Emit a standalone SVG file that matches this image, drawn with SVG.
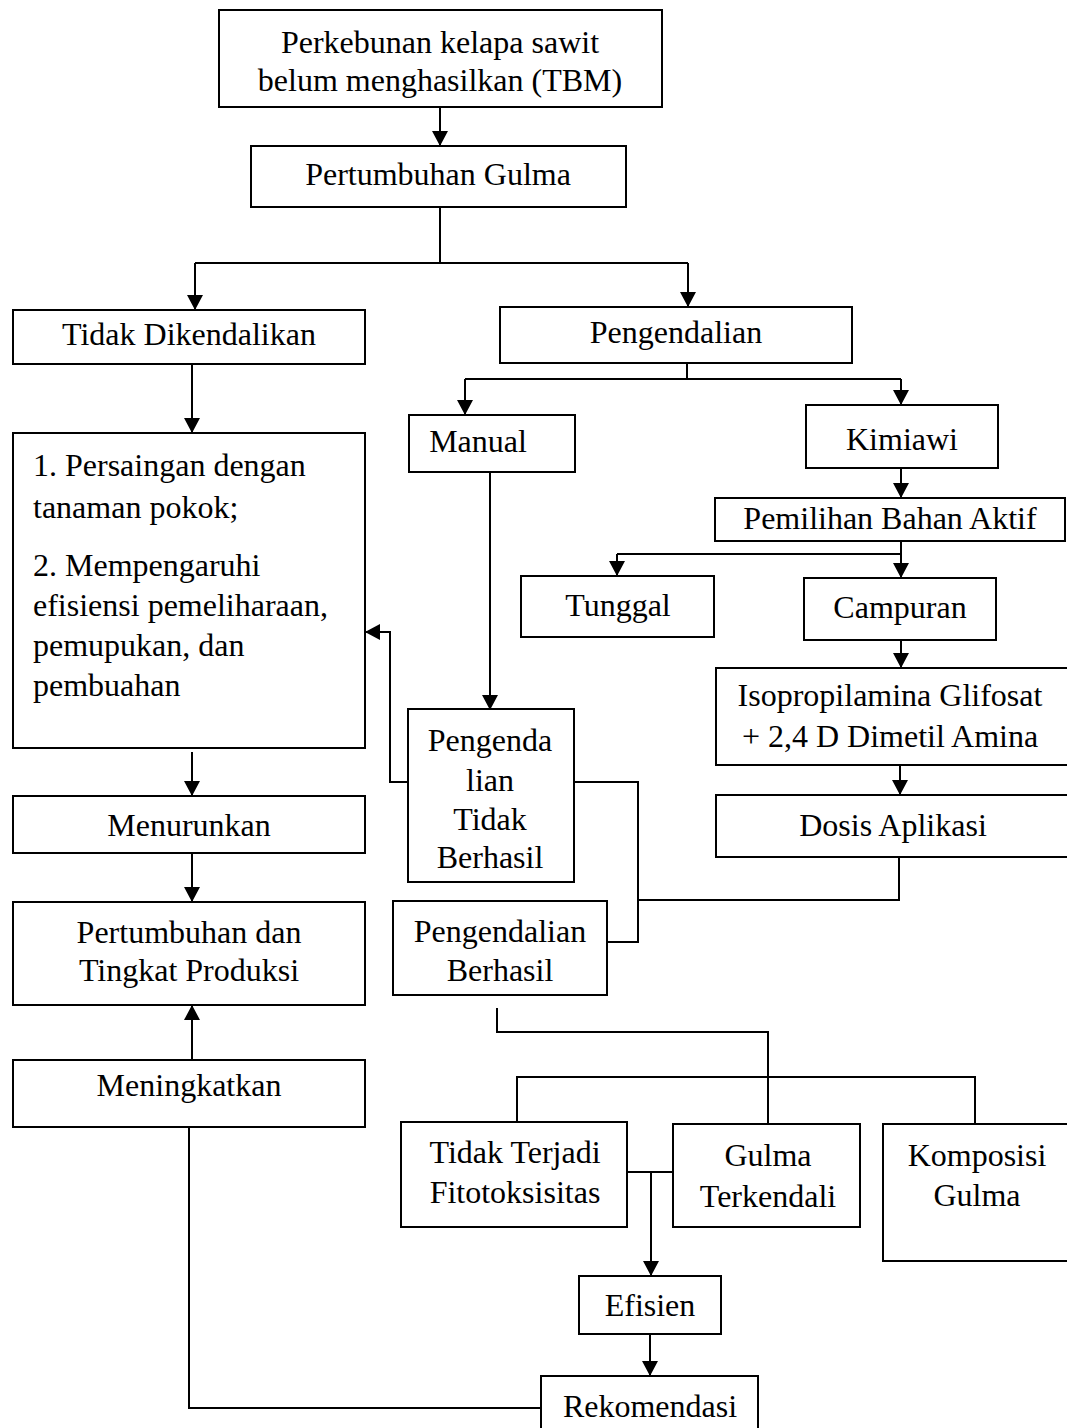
<svg xmlns="http://www.w3.org/2000/svg" width="1067" height="1428" viewBox="0 0 1067 1428">
<style>
.b{fill:#fff;stroke:#000;stroke-width:2}
.t{font-family:"Liberation Serif","Times New Roman",serif;font-size:32px;fill:#000;text-anchor:middle}
.l{text-anchor:start}
.c{fill:none;stroke:#000;stroke-width:2}
</style>
<defs>
<marker id="a" viewBox="0 0 15 16" refX="15" refY="8" markerWidth="15" markerHeight="16" markerUnits="userSpaceOnUse" orient="auto">
<path d="M0,0 L15,8 L0,16 z" fill="#000"/>
</marker>
</defs>
<rect width="1067" height="1428" fill="#fff"/>
<g id="connectors">
<path class="c" d="M440,107 V146" marker-end="url(#a)"/>
<path class="c" d="M440,208 V263 M195,263 H688"/>
<path class="c" d="M195,263 V310" marker-end="url(#a)"/>
<path class="c" d="M688,263 V307" marker-end="url(#a)"/>
<path class="c" d="M687,363 V379 M465,379 H901"/>
<path class="c" d="M465,379 V415" marker-end="url(#a)"/>
<path class="c" d="M901,379 V405" marker-end="url(#a)"/>
<path class="c" d="M901,468 V498" marker-end="url(#a)"/>
<path class="c" d="M901,541 V578" marker-end="url(#a)"/>
<path class="c" d="M617,554 H901"/>
<path class="c" d="M617,554 V576" marker-end="url(#a)"/>
<path class="c" d="M901,640 V668" marker-end="url(#a)"/>
<path class="c" d="M900,765 V795" marker-end="url(#a)"/>
<path class="c" d="M192,364 V433" marker-end="url(#a)"/>
<path class="c" d="M192,752 V796" marker-end="url(#a)"/>
<path class="c" d="M192,853 V902" marker-end="url(#a)"/>
<path class="c" d="M192,1060 V1005" marker-end="url(#a)"/>
<path class="c" d="M490,472 V710" marker-end="url(#a)"/>
<path class="c" d="M408,782 H390 V632 H365" marker-end="url(#a)"/>
<path class="c" d="M574,782 H638 V942 H608"/>
<path class="c" d="M638,900 H899 V857"/>
<path class="c" d="M497,1008 V1032 H768 V1124"/>
<path class="c" d="M517,1122 V1077 H975 V1124"/>
<path class="c" d="M627,1172 H675"/>
<path class="c" d="M651,1172 V1276" marker-end="url(#a)"/>
<path class="c" d="M650,1334 V1376" marker-end="url(#a)"/>
<path class="c" d="M189,1127 V1408 H541"/>
</g>
<g id="n1"><rect class="b" x="219" y="10" width="443" height="97"/>
<text class="t" x="440" y="53">Perkebunan kelapa sawit</text>
<text class="t" x="440" y="91">belum menghasilkan (TBM)</text></g>
<g id="n2"><rect class="b" x="251" y="146" width="375" height="61"/>
<text class="t" x="438" y="185">Pertumbuhan Gulma</text></g>
<g id="n3"><rect class="b" x="13" y="310" width="352" height="54"/>
<text class="t" x="189" y="345">Tidak Dikendalikan</text></g>
<g id="n4"><rect class="b" x="500" y="307" width="352" height="56"/>
<text class="t" x="676" y="343">Pengendalian</text></g>
<g id="n5"><rect class="b" x="409" y="415" width="166" height="57"/>
<text class="t" x="478" y="452">Manual</text></g>
<g id="n6"><rect class="b" x="806" y="405" width="192" height="63"/>
<text class="t" x="902" y="450">Kimiawi</text></g>
<g id="n7"><rect class="b" x="715" y="498" width="350" height="43"/>
<text class="t" x="890" y="529">Pemilihan Bahan Aktif</text></g>
<g id="n8"><rect class="b" x="521" y="576" width="193" height="61"/>
<text class="t" x="618" y="616">Tunggal</text></g>
<g id="n9"><rect class="b" x="804" y="578" width="192" height="62"/>
<text class="t" x="900" y="618">Campuran</text></g>
<g id="n10"><rect class="b" x="716" y="668" width="360" height="97"/>
<text class="t" x="890" y="706">Isopropilamina Glifosat</text>
<text class="t" x="890" y="747">+ 2,4 D Dimetil Amina</text></g>
<g id="n11"><rect class="b" x="716" y="795" width="360" height="62"/>
<text class="t" x="893" y="836">Dosis Aplikasi</text></g>
<g id="n12"><rect class="b" x="13" y="433" width="352" height="315"/>
<text class="t l" x="33" y="476">1. Persaingan dengan</text>
<text class="t l" x="33" y="518">tanaman pokok;</text>
<text class="t l" x="33" y="576">2. Mempengaruhi</text>
<text class="t l" x="33" y="616">efisiensi pemeliharaan,</text>
<text class="t l" x="33" y="656">pemupukan, dan</text>
<text class="t l" x="33" y="696">pembuahan</text></g>
<g id="n13"><rect class="b" x="13" y="796" width="352" height="57"/>
<text class="t" x="189" y="836">Menurunkan</text></g>
<g id="n14"><rect class="b" x="13" y="902" width="352" height="103"/>
<text class="t" x="189" y="943">Pertumbuhan dan</text>
<text class="t" x="189" y="981">Tingkat Produksi</text></g>
<g id="n15"><rect class="b" x="13" y="1060" width="352" height="67"/>
<text class="t" x="189" y="1096">Meningkatkan</text></g>
<g id="n16"><rect class="b" x="408" y="709" width="166" height="173"/>
<text class="t" x="490" y="751">Pengenda</text>
<text class="t" x="490" y="791">lian</text>
<text class="t" x="490" y="830">Tidak</text>
<text class="t" x="490" y="868">Berhasil</text></g>
<g id="n17"><rect class="b" x="393" y="901" width="214" height="94"/>
<text class="t" x="500" y="942">Pengendalian</text>
<text class="t" x="500" y="981">Berhasil</text></g>
<g id="n18"><rect class="b" x="401" y="1122" width="226" height="105"/>
<text class="t" x="515" y="1163">Tidak Terjadi</text>
<text class="t" x="515" y="1203">Fitotoksisitas</text></g>
<g id="n19"><rect class="b" x="673" y="1124" width="187" height="103"/>
<text class="t" x="768" y="1166">Gulma</text>
<text class="t" x="768" y="1207">Terkendali</text></g>
<g id="n20"><rect class="b" x="883" y="1124" width="194" height="137"/>
<text class="t" x="977" y="1166">Komposisi</text>
<text class="t" x="977" y="1206">Gulma</text></g>
<g id="n21"><rect class="b" x="579" y="1276" width="142" height="58"/>
<text class="t" x="650" y="1316">Efisien</text></g>
<g id="n22"><rect class="b" x="541" y="1376" width="217" height="62"/>
<text class="t" x="650" y="1417">Rekomendasi</text></g>
</svg>
